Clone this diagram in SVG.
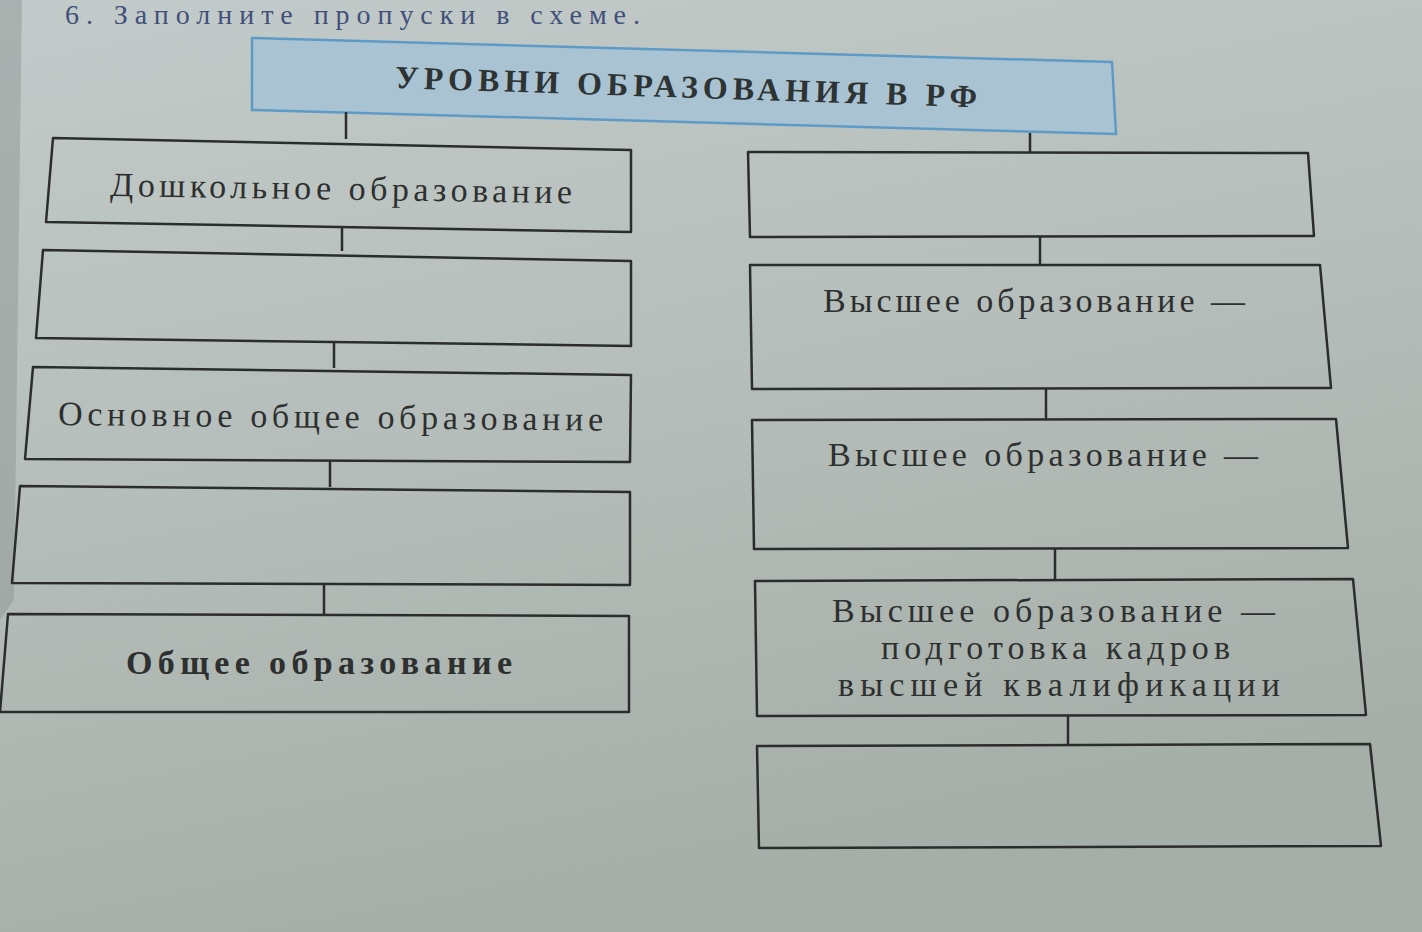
<svg xmlns="http://www.w3.org/2000/svg" width="1422" height="932" viewBox="0 0 1422 932">
<defs>
<linearGradient id="paper" x1="0" y1="0" x2="0.3" y2="1">
<stop offset="0" stop-color="#c3cbca"/>
<stop offset="0.5" stop-color="#b6bebb"/>
<stop offset="1" stop-color="#a6aea9"/>
</linearGradient>
<style>
.box{fill:none;stroke:#2b2d2c;stroke-width:2.5;stroke-linejoin:round}
.hdr{fill:#a9c3d2;stroke:#5d9bc6;stroke-width:2.5}
.con{stroke:#2b2d2c;stroke-width:2.5;fill:none}
.t{font-family:"Liberation Serif","DejaVu Serif",serif;font-size:34px;fill:#2e302f}
.b{font-weight:bold}
.h{font-family:"Liberation Serif","DejaVu Serif",serif;font-size:32px;font-weight:bold;fill:#2e3333}
.q{font-family:"Liberation Serif","DejaVu Serif",serif;font-size:28px;fill:#41507a}
</style>
</defs>
<rect width="1422" height="932" fill="url(#paper)"/>
<path d="M0,0 L22,0 L14,600 L0,620 Z" fill="#8f9795" opacity="0.5"/>
<text class="q" x="65" y="24" textLength="575" lengthAdjust="spacing">6. Заполните пропуски в схеме.</text>

<g id="header">
<polygon class="hdr" points="252,38 1112,62 1116,134 252,110"/>
<text class="h" x="395" y="88" textLength="582" lengthAdjust="spacing" transform="rotate(1.9 395 88)">УРОВНИ ОБРАЗОВАНИЯ В РФ</text>
</g>

<g id="connectors">
<line class="con" x1="346" y1="112" x2="346" y2="139"/>
<line class="con" x1="342" y1="227" x2="342" y2="251"/>
<line class="con" x1="334" y1="342" x2="334" y2="368"/>
<line class="con" x1="330" y1="461" x2="330" y2="487"/>
<line class="con" x1="324" y1="584" x2="324" y2="614"/>
<line class="con" x1="1030" y1="133" x2="1030" y2="153"/>
<line class="con" x1="1040" y1="237" x2="1040" y2="266"/>
<line class="con" x1="1046" y1="389" x2="1046" y2="420"/>
<line class="con" x1="1055" y1="549" x2="1055" y2="580"/>
<line class="con" x1="1068" y1="716" x2="1068" y2="745"/>
</g>

<g id="preschool">
<polygon class="box" points="53,138 631,150 631,232 46,222"/>
<text class="t" x="110" y="196" textLength="462" lengthAdjust="spacing" transform="rotate(0.9 110 196)">Дошкольное образование</text>
</g>
<g id="left-empty-1">
<polygon class="box" points="43,250 631,261 631,346 36,338"/>
</g>
<g id="basic-general">
<polygon class="box" points="33,367 631,375 630,462 25,459"/>
<text class="t" x="58" y="425" textLength="545" lengthAdjust="spacing" transform="rotate(0.6 58 425)">Основное общее образование</text>
</g>
<g id="left-empty-2">
<polygon class="box" points="20,486 630,492 630,585 12,583"/>
</g>
<g id="general">
<polygon class="box" points="8,614 629,616 629,712 0,712"/>
<text class="t b" x="126" y="674" textLength="386" lengthAdjust="spacing">Общее образование</text>
</g>

<g id="right-empty-1">
<polygon class="box" points="748,152 1308,153 1314,236 750,237"/>
</g>
<g id="higher-1">
<polygon class="box" points="750,265 1320,265 1331,388 752,389"/>
<text class="t" x="823" y="312" textLength="422" lengthAdjust="spacing">Высшее образование —</text>
</g>
<g id="higher-2">
<polygon class="box" points="752,420 1336,419 1348,548 754,549"/>
<text class="t" x="828" y="466" textLength="430" lengthAdjust="spacing">Высшее образование —</text>
</g>
<g id="higher-3">
<polygon class="box" points="755,581 1353,579 1366,715 757,716"/>
<text class="t" x="832" y="622" textLength="443" lengthAdjust="spacing">Высшее образование —</text>
<text class="t" x="881" y="659" textLength="349" lengthAdjust="spacing">подготовка кадров</text>
<text class="t" x="838" y="696" textLength="442" lengthAdjust="spacing">высшей квалификации</text>
</g>
<g id="right-empty-2">
<polygon class="box" points="757,746 1370,744 1381,846 759,848"/>
</g>
</svg>
